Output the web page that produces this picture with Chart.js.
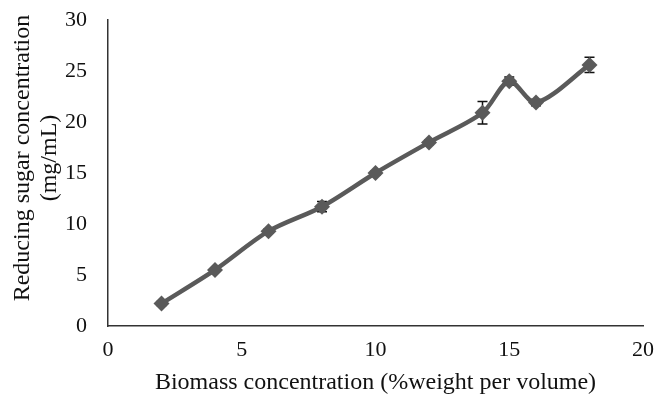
<!DOCTYPE html>
<html>
<head>
<meta charset="utf-8">
<script src="https://cdn.jsdelivr.net/npm/chart.js@4/dist/chart.umd.min.js"></script>
<style>
  html, body { margin: 0; padding: 0; background: #fff; }
  #wrap { width: 659px; height: 397px; }
</style>
</head>
<body>
<div id="wrap"><canvas id="chart"></canvas></div>
<script>
const biomass = [2, 4, 6, 8, 10, 12, 14, 15, 16, 18];
const sugar = [2.2, 5.5, 9.3, 11.7, 15.0, 18.0, 20.9, 24.0, 21.9, 25.6];
const sugarErr = [0.2, 0.2, 0.2, 0.5, 0.2, 0.2, 1.1, 0.4, 0.3, 0.75];
const yTitle = ['Reducing sugar concentration', '(mg/mL)'];
const xTitle = 'Biomass concentration (%weight per volume)';

const points = biomass.map((x, i) => ({ x: x, y: sugar[i] }));

const family = '"Liberation Serif", "Times New Roman", serif';
const tickFont = { family: family, size: 22 };
const titleFont = { family: family, size: 24 };

// error bars drawn through the chart scales, behind the markers
const errorBars = {
  id: 'errorBars',
  beforeDatasetsDraw(chart) {
    const ctx = chart.ctx;
    const xs = chart.scales.x;
    const ys = chart.scales.y;
    ctx.save();
    ctx.strokeStyle = '#111';
    ctx.lineWidth = 1.5;
    biomass.forEach((x, i) => {
      const px = xs.getPixelForValue(x);
      const top = ys.getPixelForValue(sugar[i] + sugarErr[i]);
      const bot = ys.getPixelForValue(sugar[i] - sugarErr[i]);
      ctx.beginPath();
      ctx.moveTo(px, top); ctx.lineTo(px, bot);
      ctx.moveTo(px - 5, top); ctx.lineTo(px + 5, top);
      ctx.moveTo(px - 5, bot); ctx.lineTo(px + 5, bot);
      ctx.stroke();
    });
    ctx.restore();
  }
};

// y title sits a bit above the middle of the plot, like the original
const yTitlePlugin = {
  id: 'yTitle',
  afterDraw(chart) {
    const ctx = chart.ctx;
    const area = chart.chartArea;
    const cy = (area.top + area.bottom) / 2 - 15;
    ctx.save();
    ctx.translate(0, cy);
    ctx.rotate(-Math.PI / 2);
    ctx.font = titleFont.size + 'px ' + family;
    ctx.fillStyle = '#111';
    ctx.textAlign = 'center';
    ctx.textBaseline = 'middle';
    ctx.fillText(yTitle[0], 0, 23);
    ctx.fillText(yTitle[1], 0, 50);
    ctx.restore();
  }
};

new Chart(document.getElementById('chart'), {
  type: 'line',
  data: {
    datasets: [{
      data: points,
      borderColor: '#5a5a5a',
      backgroundColor: '#5a5a5a',
      borderWidth: 4.5,
      tension: 0.3,
      pointStyle: 'rectRot',
      pointRadius: 8,
      pointHoverRadius: 8,
      pointBorderWidth: 0
    }]
  },
  options: {
    responsive: true,
    maintainAspectRatio: false,
    animation: false,
    layout: { padding: { top: 20, right: 16, left: 0, bottom: 0 } },
    plugins: { legend: { display: false }, tooltip: { enabled: false } },
    scales: {
      x: {
        type: 'linear',
        min: 0, max: 20,
        ticks: { stepSize: 5, color: '#111', font: tickFont, padding: 5 },
        grid: { display: false, drawTicks: true, tickLength: 6, tickColor: '#333' },
        border: { color: '#333', width: 1.5 },
        title: { display: true, text: xTitle, color: '#111', font: titleFont, padding: { top: 4, bottom: 0 } },
        afterFit(s) { s.height = 71; s.paddingRight = 0; }
      },
      y: {
        min: 0, max: 30,
        ticks: { stepSize: 5, color: '#111', font: tickFont, padding: 13 },
        grid: { display: false, drawTicks: true, tickLength: 8, tickColor: '#333' },
        border: { color: '#333', width: 1.5 },
        afterFit(s) { s.width = 108; s.paddingTop = 0; }
      }
    }
  },
  plugins: [errorBars, yTitlePlugin]
});
</script>
</body>
</html>
